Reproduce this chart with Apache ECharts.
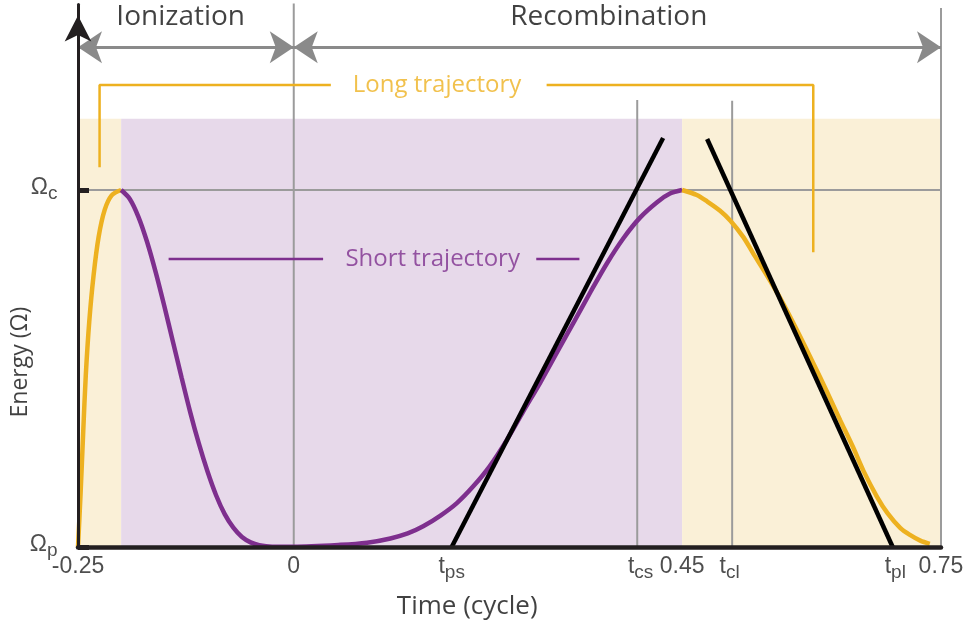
<!DOCTYPE html>
<html>
<head>
<meta charset="utf-8">
<script src="https://cdn.jsdelivr.net/npm/echarts@6/dist/echarts.min.js"></script>
<style>
  body { margin: 0; padding: 0; background: #fff; }
  #main { width: 976px; height: 632px; }
</style>
</head>
<body>
<div id="main"></div>
<script>
// energy is scaled so that Omega_p = 0 and Omega_c = 1, time in cycles
var longRise = [[-0.25, 0], [-0.247, 0.15], [-0.244, 0.32], [-0.241, 0.48], [-0.237, 0.63], [-0.232, 0.76],
  [-0.226, 0.87], [-0.219, 0.945], [-0.211, 0.985], [-0.2, 1]];
var shortCurve = [[-0.2, 1], [-0.19, 0.975], [-0.18, 0.925], [-0.17, 0.855], [-0.16, 0.77], [-0.15, 0.675],
  [-0.14, 0.575], [-0.13, 0.475], [-0.12, 0.378], [-0.11, 0.29], [-0.10, 0.212], [-0.09, 0.145], [-0.08, 0.092],
  [-0.07, 0.054], [-0.06, 0.028], [-0.05, 0.013], [-0.04, 0.005], [-0.025, 0.001], [0, 0.001], [0.054, 0.006],
  [0.085, 0.012], [0.112, 0.024], [0.132, 0.038], [0.150, 0.058], [0.170, 0.088], [0.189, 0.123], [0.208, 0.170],
  [0.227, 0.226], [0.247, 0.300], [0.266, 0.380], [0.286, 0.462], [0.305, 0.545], [0.325, 0.632], [0.344, 0.715],
  [0.363, 0.795], [0.382, 0.865], [0.401, 0.922], [0.421, 0.966], [0.436, 0.99], [0.45, 1]];
var longFall = [[0.45, 1], [0.467, 0.986], [0.479, 0.968], [0.494, 0.942], [0.506, 0.914], [0.521, 0.868],
  [0.532, 0.824], [0.548, 0.762], [0.563, 0.700], [0.583, 0.608], [0.602, 0.515], [0.618, 0.434], [0.633, 0.356],
  [0.648, 0.280], [0.660, 0.214], [0.676, 0.140], [0.688, 0.095], [0.703, 0.053], [0.714, 0.034], [0.726, 0.018],
  [0.737, 0.009]];

var tangentShort = [[0.183, 0], [0.428, 1.146]];
var tangentLong = [[0.479, 1.143], [0.694, 0]];

var xTickValues = [-0.25, 0, 0.183, 0.402, 0.45, 0.505, 0.697, 0.75];
var xTickLabels = ['-0.25', '0', 't_ps', 't_cs', '0.45', 't_cl', 't_pl', '0.75'];
var yTickValues = [0, 1];
var yTickLabels = ['Ω_p', 'Ω_c'];

// [from, to, kind]
var shadeBands = [[-0.25, -0.2, 'long'], [-0.2, 0.45, 'short'], [0.45, 0.75, 'long']];
var shadeTop = 1.2;
// [x, top]
var guideVerticals = [[0, 1.53], [0.398, 1.252], [0.508, 1.25], [0.75, 1.51]];
var omegaC = 1;

// [from, to, label]
var phases = [[-0.25, 0, 'Ionization'], [0, 0.75, 'Recombination']];
var phaseArrowY = 1.40;
var phaseTextY = 1.485;
var phaseTextX = [-0.131, 0.365];

var longBracket = [[[-0.225, 1.064], [-0.225, 1.294], [0.043, 1.294]], [[0.293, 1.294], [0.602, 1.294], [0.602, 0.826]]];
var shortBracket = [[[-0.145, 0.807], [0.034, 0.807]], [[0.281, 0.807], [0.331, 0.807]]];
var notes = [[0.166, 1.294, 'Long trajectory', 'long'], [0.161, 0.807, 'Short trajectory', 'short']];

var YELLOW = '#EDB120', PURPLE = '#7E2F8E', LIGHT_Y = '#FAF0D7', LIGHT_P = '#E7D9EA';
var GRAY = '#9B9B9B', ARROW = '#8A8A8A', INK = '#231F20';
var TEXT_FONT = 'Open Sans', NUM_FONT = 'Liberation Sans';

function subText(s) {
  var p = s.split('_');
  return p.length > 1 ? '{b|' + p[0] + '}{s|' + p[1] + '}' : '{b|' + s + '}';
}

function lineSeries(data, color, width, z) {
  return {
    type: 'line', data: data, showSymbol: false, symbol: 'none', silent: true, z: z,
    lineStyle: { color: color, width: width }, animation: false
  };
}

var chart = echarts.init(document.getElementById('main'));

var series = [];

// Omega_c guide, hosting the shaded bands
var cLine = lineSeries([[-0.25, omegaC], [0.75, omegaC]], GRAY, 2, 2);
cLine.markArea = {
  silent: true,
  z: 1,
  data: shadeBands.map(function (b) {
    return [{ xAxis: b[0], yAxis: 0, itemStyle: { color: b[2] === 'long' ? LIGHT_Y : LIGHT_P } },
            { xAxis: b[1], yAxis: shadeTop }];
  })
};
series.push(cLine);

guideVerticals.forEach(function (g) {
  series.push(lineSeries([[g[0], 0], [g[0], g[1]]], GRAY, 2, 2));
});

series.push(Object.assign(lineSeries(longRise, YELLOW, 4.5, 3), { smooth: 0.3 }));
series.push(Object.assign(lineSeries(shortCurve, PURPLE, 4.5, 3), { smooth: 0.3 }));
series.push(Object.assign(lineSeries(longFall, YELLOW, 4.5, 3), { smooth: 0.3 }));

series.push(lineSeries(tangentShort, '#000', 4.5, 4));
series.push(lineSeries(tangentLong, '#000', 4.5, 4));

longBracket.forEach(function (seg) { series.push(lineSeries(seg, YELLOW, 2.5, 3)); });
shortBracket.forEach(function (seg) { series.push(lineSeries(seg, PURPLE, 2.5, 3)); });

series.push({
  type: 'lines',
  coordinateSystem: 'cartesian2d',
  silent: true,
  z: 4,
  symbol: ['arrow', 'arrow'],
  symbolSize: 24,
  lineStyle: { color: ARROW, width: 3, opacity: 1 },
  data: phases.map(function (p) { return { coords: [[p[0], phaseArrowY], [p[1], phaseArrowY]] }; })
});

// text labels placed in data coordinates
function textSeries(data, label) {
  return {
    type: 'scatter', silent: true, clip: false, z: 6, symbolSize: 1,
    itemStyle: { color: 'rgba(0,0,0,0)' },
    data: data, label: Object.assign({ show: true }, label)
  };
}

series.push(textSeries(phases.map(function (p, i) { return [phaseTextX[i], phaseTextY, p[2]]; }), {
  position: 'inside', formatter: function (d) { return d.data[2]; },
  fontFamily: TEXT_FONT, fontSize: 28, color: '#111'
}));

notes.forEach(function (n) {
  series.push(textSeries([[n[0], n[1], n[2]]], {
    position: 'inside', formatter: function (d) { return d.data[2]; },
    fontFamily: TEXT_FONT, fontSize: 24, color: n[3] === 'long' ? YELLOW : PURPLE
  }));
});

series.push(textSeries(xTickValues.map(function (v, i) { return [v, 0, xTickLabels[i]]; }), {
  position: 'bottom', distance: 8,
  formatter: function (d) { return subText(d.data[2]); },
  rich: {
    b: { fontFamily: NUM_FONT, fontSize: 23, color: '#222', verticalAlign: 'top' },
    s: { fontFamily: NUM_FONT, fontSize: 19, color: '#222', verticalAlign: 'top', padding: [8, 0, 0, 0] }
  }
}));

series.push(textSeries(yTickValues.map(function (v, i) { return [-0.25, v, yTickLabels[i]]; }), {
  position: 'left', distance: 20,
  formatter: function (d) { return subText(d.data[2]); },
  rich: {
    b: { fontFamily: NUM_FONT, fontSize: 23, color: '#222', verticalAlign: 'top' },
    s: { fontFamily: NUM_FONT, fontSize: 19, color: '#222', verticalAlign: 'top', padding: [8, 0, 0, 0] }
  }
}));

series.push(textSeries([[0.201, -0.168, 'Time (cycle)']], {
  position: 'inside', formatter: function (d) { return d.data[2]; },
  fontFamily: TEXT_FONT, fontSize: 26, color: '#111'
}));
series.push(textSeries([[-0.317, 0.518, 'Energy (Ω)']], {
  position: 'inside', rotate: 90, formatter: function (d) { return d.data[2]; },
  fontFamily: TEXT_FONT, fontSize: 23, color: '#111'
}));

chart.setOption({
  animation: false,
  grid: { left: 78, right: 35, top: 4.4, bottom: 85 },
  xAxis: {
    type: 'value', min: -0.25, max: 0.75, z: 5,
    axisLine: { onZero: false, lineStyle: { color: INK, width: 4.5 } },
    axisTick: { show: false }, axisLabel: { show: false }, splitLine: { show: false }
  },
  yAxis: {
    type: 'value', min: 0, max: 1.52, z: 5,
    axisLine: {
      show: true, onZero: false, lineStyle: { color: INK, width: 3 },
      symbol: ['none', 'arrow'], symbolSize: [20, 26], symbolOffset: [0, -11]
    },
    axisTick: { show: true, inside: true, length: 11, customValues: yTickValues, lineStyle: { color: INK, width: 5 } },
    axisLabel: { show: false }, splitLine: { show: false }
  },
  series: series
});
</script>
</body>
</html>
